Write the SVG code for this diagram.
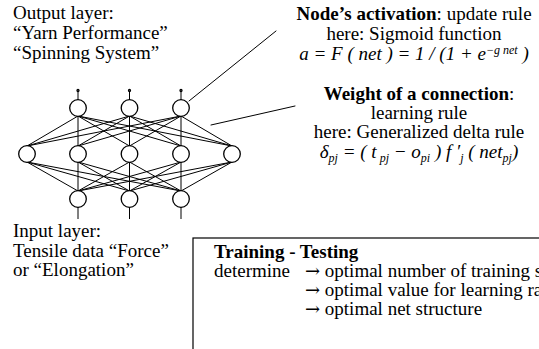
<svg xmlns="http://www.w3.org/2000/svg" width="539" height="349" viewBox="0 0 539 349">
<style>
text{font-family:'Liberation Serif','Times New Roman',Tinos,'DejaVu Serif',serif;font-size:19px;fill:#000}
.b{font-weight:bold}
.i{font-style:italic}
.c{text-anchor:middle}
.sub{font-size:12px}
.sup{font-size:12px}
.ar{font-family:'DejaVu Serif',serif;font-size:18px}
.conn line{stroke:#000;stroke-width:1}
.ptr{stroke:#000;stroke-width:2.6;stroke-linecap:round}
.node circle{fill:#fff;stroke:#000;stroke-width:1.3}
.stem{stroke:#000;stroke-width:1.3}
</style>
<rect width="539" height="349" fill="#fff"/>

<g id="label-output">
<text x="13" y="19">Output layer:</text>
<text x="13" y="39">“Yarn Performance”</text>
<text x="13" y="59">“Spinning System”</text>
</g>

<g id="label-activation">
<text x="414" y="20" class="c"><tspan class="b">Node’s activation</tspan>: update rule</text>
<text x="414" y="40" class="c">here: Sigmoid function</text>
<text x="414" y="60" class="c i">a = F ( net ) = 1 / (1 + e<tspan class="sup" dy="-6">−g net</tspan><tspan dy="6"> )</tspan></text>
</g>

<g id="label-weight">
<text x="419" y="100" class="c"><tspan class="b">Weight of a connection</tspan>:</text>
<text x="419" y="119" class="c">learning rule</text>
<text x="419" y="138" class="c">here: Generalized delta rule</text>
<text x="419" y="158" class="c i">δ<tspan class="sub" dy="4">pj</tspan><tspan dy="-4"> = ( t</tspan><tspan class="sub" dy="4"> pj</tspan><tspan dy="-4"> − o</tspan><tspan class="sub" dy="4">pi</tspan><tspan dy="-4"> ) f ′</tspan><tspan class="sub" dy="4">j</tspan><tspan dy="-4"> ( net</tspan><tspan class="sub" dy="4">pj</tspan><tspan dy="-4">)</tspan></text>
</g>

<g id="label-input">
<text x="13" y="237">Input layer:</text>
<text x="13" y="257">Tensile data “Force”</text>
<text x="13" y="276">or “Elongation”</text>
</g>

<g id="connectors" class="conn">
<line x1="78" y1="116" x2="27" y2="146"/><line x1="78" y1="116" x2="78" y2="146"/><line x1="78" y1="116" x2="129.5" y2="146"/><line x1="78" y1="116" x2="181" y2="146"/><line x1="78" y1="116" x2="232" y2="146"/>
<line x1="129.5" y1="116" x2="27" y2="146"/><line x1="129.5" y1="116" x2="78" y2="146"/><line x1="129.5" y1="116" x2="129.5" y2="146"/><line x1="129.5" y1="116" x2="181" y2="146"/><line x1="129.5" y1="116" x2="232" y2="146"/>
<line x1="181" y1="116" x2="27" y2="146"/><line x1="181" y1="116" x2="78" y2="146"/><line x1="181" y1="116" x2="129.5" y2="146"/><line x1="181" y1="116" x2="181" y2="146"/><line x1="181" y1="116" x2="232" y2="146"/>
<line x1="27" y1="162" x2="78" y2="191"/><line x1="27" y1="162" x2="129.5" y2="191"/><line x1="27" y1="162" x2="181" y2="191"/>
<line x1="78" y1="162" x2="78" y2="191"/><line x1="78" y1="162" x2="129.5" y2="191"/><line x1="78" y1="162" x2="181" y2="191"/>
<line x1="129.5" y1="162" x2="78" y2="191"/><line x1="129.5" y1="162" x2="129.5" y2="191"/><line x1="129.5" y1="162" x2="181" y2="191"/>
<line x1="181" y1="162" x2="78" y2="191"/><line x1="181" y1="162" x2="129.5" y2="191"/><line x1="181" y1="162" x2="181" y2="191"/>
<line x1="232" y1="162" x2="78" y2="191"/><line x1="232" y1="162" x2="129.5" y2="191"/><line x1="232" y1="162" x2="181" y2="191"/>
<line class="stem" x1="78" y1="91" x2="78" y2="100"/><line class="stem" x1="129.5" y1="91" x2="129.5" y2="100"/><line class="stem" x1="181" y1="91" x2="181" y2="100"/>
<line class="stem" x1="78" y1="207" x2="78" y2="219"/><line class="stem" x1="129.5" y1="207" x2="129.5" y2="219"/><line class="stem" x1="181" y1="207" x2="181" y2="219"/>
<line class="ptr" x1="189" y1="101" x2="276" y2="31"/>
<line class="ptr" x1="211" y1="125" x2="295" y2="106"/>
</g>

<g id="output-1" class="node"><circle cx="78" cy="108" r="8.3"/><circle cx="78" cy="90.5" r="1" fill="#000"/></g>
<g id="output-2" class="node"><circle cx="129.5" cy="108" r="8.3"/><circle cx="129.5" cy="90.5" r="1" fill="#000"/></g>
<g id="output-3" class="node"><circle cx="181" cy="108" r="8.3"/><circle cx="181" cy="90.5" r="1" fill="#000"/></g>
<g id="hidden-1" class="node"><circle cx="27" cy="154" r="8.3"/></g>
<g id="hidden-2" class="node"><circle cx="78" cy="154" r="8.3"/></g>
<g id="hidden-3" class="node"><circle cx="129.5" cy="154" r="8.3"/></g>
<g id="hidden-4" class="node"><circle cx="181" cy="154" r="8.3"/></g>
<g id="hidden-5" class="node"><circle cx="232" cy="154" r="8.3"/></g>
<g id="input-1" class="node"><circle cx="78" cy="199" r="8.3"/></g>
<g id="input-2" class="node"><circle cx="129.5" cy="199" r="8.3"/></g>
<g id="input-3" class="node"><circle cx="181" cy="199" r="8.3"/></g>

<g id="training-box">
<rect x="193" y="238" width="400" height="200" fill="none" stroke="#000" stroke-width="1.2"/>
<text x="214" y="258" class="b">Training - Testing</text>
<text x="214" y="277">determine</text>
<text x="305" y="277"><tspan class="ar">→</tspan> optimal number of training s</text>
<text x="305" y="296"><tspan class="ar">→</tspan> optimal value for learning ra</text>
<text x="305" y="315"><tspan class="ar">→</tspan> optimal net structure</text>
</g>
</svg>
